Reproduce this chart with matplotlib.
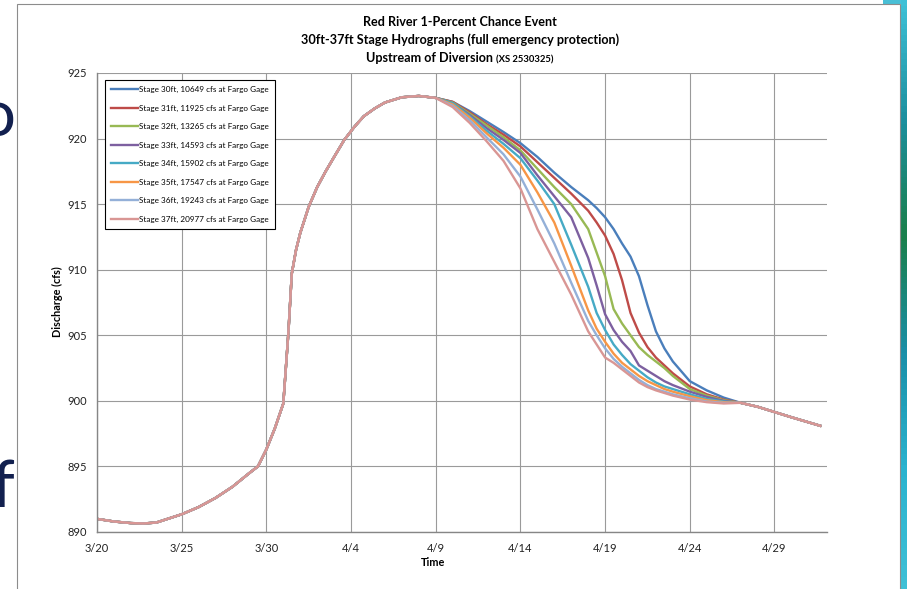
"""
Red River 1-percent chance event - stage hydrographs upstream of diversion
"""

import matplotlib
matplotlib.use("Agg")
import matplotlib.pyplot as plt
import matplotlib.patches as mpatches
from matplotlib.offsetbox import TextArea, HPacker, AnnotationBbox
from matplotlib.ticker import FuncFormatter
import matplotlib.dates as mdates
import numpy as np
import pandas as pd

# ---- data (days after 3/20, stage values) ----
start_date = pd.Timestamp("2009-03-20")

# rising limb is identical for every scenario
rise_day = [0, 1, 2, 2.75, 3.5, 5, 6, 7, 8, 9, 9.5, 10, 10.5, 11, 11.15, 11.3,
            11.5, 11.75, 12, 12.5, 13, 13.5, 14, 14.6, 15.2, 15.75, 16.4, 17,
            18, 19, 20]
rise_q = [891.0, 890.8, 890.68, 890.65, 890.72, 891.35, 891.9, 892.6, 893.45,
          894.5, 895.0, 896.3, 897.9, 899.8, 902.5, 905.2, 909.7, 911.5, 912.8,
          914.8, 916.3, 917.5, 918.6, 919.9, 920.9, 921.7, 922.3, 922.75,
          923.15, 923.25, 923.1]

# falling limb differs per scenario
fall_day = [21, 22, 23, 24, 25, 26, 27, 28, 29, 29.5, 30, 30.5, 31, 31.5, 32,
            32.5, 33, 33.5, 34, 35, 36, 37, 38, 39, 40, 41, 42.7]
tail_q = [899.85, 899.55, 899.15, 898.75, 898.1]

q_30ft = [922.8, 922.1, 921.3, 920.5, 919.65, 918.6, 917.4, 916.3, 915.3, 914.7,
          914.0, 913.1, 912.0, 911.0, 909.5, 907.3, 905.3, 904.0, 903.0, 901.5,
          900.8, 900.25] + tail_q
q_31ft = [922.8, 922.0, 921.1, 920.3, 919.4, 918.2, 917.0, 915.8, 914.5, 913.6,
          912.6, 911.2, 909.2, 906.7, 905.2, 904.1, 903.3, 902.7, 902.1, 901.1,
          900.5, 900.1] + tail_q
q_32ft = [922.75, 921.9, 921.0, 920.1, 919.1, 917.7, 916.3, 915.0, 913.1, 911.3,
          909.5, 907.0, 905.9, 905.0, 904.1, 903.5, 903.0, 902.5, 901.9, 900.9,
          900.4, 900.05] + tail_q
q_33ft = [922.7, 921.8, 920.8, 919.9, 918.9, 917.2, 915.6, 914.0, 910.9, 908.8,
          906.6, 905.4, 904.5, 903.8, 902.7, 902.3, 901.9, 901.5, 901.2, 900.7,
          900.3, 900.0] + tail_q
q_34ft = [922.7, 921.7, 920.6, 919.6, 918.5, 916.8, 915.0, 911.9, 908.7, 906.7,
          905.4, 904.3, 903.5, 902.8, 902.3, 901.8, 901.4, 901.1, 900.9, 900.5,
          900.15, 899.95] + tail_q
q_35ft = [922.6, 921.6, 920.4, 919.3, 918.0, 915.9, 913.6, 910.3, 906.9, 905.5,
          904.5, 903.6, 902.9, 902.4, 901.9, 901.5, 901.2, 900.9, 900.7, 900.35,
          900.05, 899.9] + tail_q
q_36ft = [922.5, 921.4, 920.1, 918.8, 917.1, 914.6, 912.0, 909.0, 906.1, 905.0,
          904.0, 903.2, 902.6, 902.1, 901.6, 901.2, 900.9, 900.7, 900.5, 900.2,
          899.95, 899.85] + tail_q
q_37ft = [922.4, 921.2, 919.8, 918.3, 916.2, 913.1, 910.6, 908.1, 905.3, 904.3,
          903.3, 902.9, 902.4, 901.9, 901.4, 901.05, 900.8, 900.6, 900.4, 900.1,
          899.9, 899.8] + tail_q

series_labels = [
    "Stage 30ft, 10649 cfs at Fargo Gage",
    "Stage 31ft, 11925 cfs at Fargo Gage",
    "Stage 32ft, 13265 cfs at Fargo Gage",
    "Stage 33ft, 14593 cfs at Fargo Gage",
    "Stage 34ft, 15902 cfs at Fargo Gage",
    "Stage 35ft, 17547 cfs at Fargo Gage",
    "Stage 36ft, 19243 cfs at Fargo Gage",
    "Stage 37ft, 20977 cfs at Fargo Gage",
]
series_q = [q_30ft, q_31ft, q_32ft, q_33ft, q_34ft, q_35ft, q_36ft, q_37ft]
colors = ["#4A7EBB", "#BE4B48", "#98B954", "#7D60A0",
          "#46AAC5", "#F79646", "#94B0D8", "#D99694"]

y_ticks = [890, 895, 900, 905, 910, 915, 920, 925]
x_tick_days = [0, 5, 10, 15, 20, 25, 30, 35, 40]

FONT = ["Lato", "DejaVu Sans"]
plt.rcParams["font.family"] = FONT

W, H = 907, 589
fig = plt.figure(figsize=(W / 100, H / 100), dpi=100)
fig.patch.set_facecolor("white")

# slide behind the chart
fig.text(15 / W, 1 - 136 / H, "o", fontsize=47, color="#12204f",
         ha="right", va="baseline", zorder=0)
fig.text(14 / W, 1 - 507 / H, "f", fontsize=47, color="#12204f",
         ha="right", va="baseline", zorder=0)
side = fig.add_axes([901 / W, 0, 6 / W, 1], zorder=0)
grad = np.linspace(0, 1, 100).reshape(-1, 1)
side.imshow(grad, aspect="auto", cmap=matplotlib.colors.LinearSegmentedColormap.from_list(
    "bar", ["#3fc0d6", "#1c8f9e", "#1a7f4a", "#1a8fa8", "#2ab3cf", "#3fc0d6"]))
side.axis("off")
fig.add_artist(mpatches.Rectangle((883 / W, 1 - 4 / H), 24 / W, 4 / H,
                                  transform=fig.transFigure, facecolor="#49bfd6",
                                  edgecolor="none", zorder=0))

# chart area frame
fig.add_artist(mpatches.Rectangle((17 / W, -0.05), (900 - 17) / W, 1.05 - 4 / H,
                                  transform=fig.transFigure, facecolor="white",
                                  edgecolor="#8c8c8c", lw=0.8, zorder=1))

ax = fig.add_axes([97 / W, 1 - 532 / H, (827 - 97) / W, (532 - 73) / H], zorder=2)
ax.set_facecolor("white")

for label, q, c in zip(series_labels, series_q, colors):
    days = np.array(rise_day + fall_day, dtype=float)
    t = start_date + pd.to_timedelta(days, unit="D")
    ax.plot(t, rise_q + q, color=c, lw=1.7, label=label, solid_joinstyle="round")

ax.set_ylim(890, 925)
ax.set_yticks(y_ticks)
ax.set_xlim(start_date, start_date + pd.Timedelta(days=43.1))
ax.set_xticks([start_date + pd.Timedelta(days=d) for d in x_tick_days])
ax.xaxis.set_major_formatter(FuncFormatter(
    lambda v, pos: f"{mdates.num2date(v).month}/{mdates.num2date(v).day}"))

ax.grid(True, color="#9a9a9a", lw=0.8)
ax.set_axisbelow(True)
for s in ["top", "right"]:
    ax.spines[s].set_visible(False)
for s in ["left", "bottom"]:
    ax.spines[s].set_color("#868686")
    ax.spines[s].set_linewidth(1.0)
ax.tick_params(length=0, labelsize=8, colors="#222222")
ax.tick_params(axis="y", pad=7)
ax.tick_params(axis="x", pad=8)

leg = ax.legend(loc="upper left", bbox_to_anchor=(0.011, 0.985), fontsize=5.9,
                frameon=True, fancybox=False, edgecolor="black", framealpha=1,
                handlelength=3.3, handletextpad=0.15, labelspacing=1.4,
                borderpad=0.75, borderaxespad=0)
leg.get_frame().set_linewidth(0.8)

fig.text(433 / W, 1 - 563 / H, "Time", fontsize=7.8, fontweight="bold",
         ha="center", va="center", zorder=3)
fig.text(57 / W, 1 - 302 / H, "Discharge (cfs)", fontsize=7.8, fontweight="bold",
         rotation=90, ha="center", va="center", zorder=3)

# title
fig.text(460 / W, 1 - 22 / H, "Red River 1-Percent Chance Event", fontsize=9.1,
         fontweight="bold", ha="center", va="center", zorder=3)
fig.text(460 / W, 1 - 40 / H, "30ft-37ft Stage Hydrographs (full emergency protection)",
         fontsize=9.1, fontweight="bold", ha="center", va="center", zorder=3)
line3 = HPacker(children=[
    TextArea("Upstream of Diversion ", textprops=dict(fontsize=9.1, fontweight="bold")),
    TextArea("(XS 2530325)", textprops=dict(fontsize=6.8, fontweight="bold")),
], align="baseline", pad=0, sep=0)
ab = AnnotationBbox(line3, (460 / W, 1 - 58 / H), xycoords="figure fraction",
                    frameon=False, box_alignment=(0.5, 0.5), zorder=3)
fig.add_artist(ab)

fig.savefig("out.png", dpi=100)
plt.close(fig)
